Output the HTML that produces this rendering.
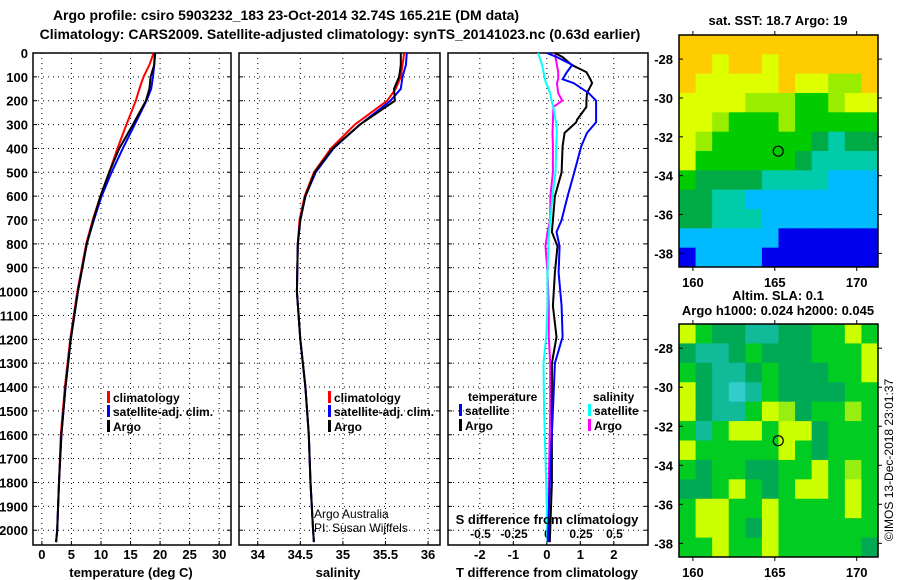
<!DOCTYPE html>
<html><head><meta charset="utf-8"><style>
body{margin:0;background:#fff;}
svg{display:block;font-family:"Liberation Sans",sans-serif;}
.b{font-weight:bold;font-size:14px;}
.t{font-weight:bold;font-size:13px;}
.l{font-weight:bold;font-size:12px;}
</style></head><body>
<svg id="c" width="900" height="580" xmlns="http://www.w3.org/2000/svg">
<rect width="900" height="580" fill="#fff"/>
<text x="286" y="20" text-anchor="middle" class="b">Argo profile: csiro 5903232_183 23-Oct-2014 32.74S 165.21E (DM data)</text>
<text x="340" y="39" text-anchor="middle" class="b">Climatology: CARS2009. Satellite-adjusted climatology: synTS_20141023.nc (0.63d earlier)</text>
<g id="g"></g>
</svg>
<script>
// ---- data ----
const depth     = [0,50,100,150,200,300,400,500,600,700,800,1000,1200,1400,1600,1800,2000,2050];
const tempClim  = [18.9,18.2,17.2,16.5,15.9,14.3,12.8,11.4,9.9,8.6,7.5,6.0,4.8,3.9,3.2,2.9,2.6,2.4];
const tempSat   = [19.2,19.0,18.8,18.5,17.7,15.7,13.7,11.8,10.1,8.8,7.6,6.1,4.9,4.0,3.3,2.9,2.6,2.4];
const tempArgo  = [19.1,19.0,18.4,18.2,17.6,15.4,13.1,11.4,9.9,8.7,7.6,6.1,4.9,4.0,3.3,2.9,2.6,2.4];
const salClim   = [35.72,35.70,35.68,35.62,35.52,35.14,34.86,34.66,34.55,34.49,34.47,34.46,34.50,34.56,34.60,34.62,34.65,34.66];
const salSat    = [35.75,35.74,35.70,35.68,35.56,35.20,34.89,34.68,34.56,34.50,34.47,34.46,34.50,34.56,34.60,34.62,34.65,34.66];
const salArgo   = [35.68,35.68,35.66,35.60,35.61,35.20,34.88,34.67,34.56,34.50,34.47,34.46,34.50,34.56,34.60,34.62,34.65,34.66];
const dDepth    = [0,17,50,80,110,126,168,200,226,280,290,335,390,500,600,700,750,810,920,1060,1190,1300,1500,1800,2050];
const tDiffSat  = [0,0.3,0.76,0.6,0.47,0.8,1.25,1.47,1.47,1.47,1.47,1.2,1.03,0.82,0.62,0.44,0.29,0.38,0.35,0.44,0.47,0.24,0.18,0.09,0.03];
const tDiffArgo = [0.24,0.47,0.74,1.18,1.3,1.35,1.2,1.18,1.18,0.9,0.88,0.53,0.47,0.44,0.24,0.18,0.15,0.32,0.24,0.18,0.29,0.15,0.15,0.15,0.09];
const sDiffSat  = [-0.07,-0.06,-0.04,-0.03,-0.02,-0.01,0.02,0.03,0.044,0.06,0.065,0.07,0.065,0.06,0.037,0.02,0.012,0.007,0,0,-0.01,-0.03,-0.025,-0.01,0];
const sDiffArgo = [0.06,0.06,0.07,0.08,0.08,0.07,0.08,0.11,0.044,0.04,0.04,0.037,0.04,0.04,0.022,0.02,0.0,-0.015,0.0,0.01,0.01,0.02,0.02,0.01,0.01];
const depthTicks = [0,100,200,300,400,500,600,700,800,900,1000,1100,1200,1300,1400,1500,1600,1700,1800,1900,2000];
const tempTicks = [0,5,10,15,20,25,30];
const salTicks = [34,34.5,35,35.5,36];
const salTickLabels = ['34','34.5','35','35.5','36'];
const tdTicks = [-2,-1,0,1,2];
const sdTicks = [-0.5,-0.25,0,0.25,0.5];
const sdTickLabels = ['-0.5','-0.25','0','0.25','0.5'];
const latTicks = [-28,-30,-32,-34,-36,-38];
const lonTicks = [160,165,170];
const sstGrid = ["OOOOOOOOOOOO","OOYOOYOOOOOO","OYYYYYOYYLLO","YYYYLLLGGLYY","YYLGGGLGGGGG","YLGGGGGGDTDD","YGGGGGGDTTTT","GDDDDTTTTCCC","DDTTCCCCCCCC","DDTTTCCCCCCC","CCCCCCBBBBBB","BCCCCBBBBBBB"];
const slaGrid = ["YGDDTTDDGGYG","DTTDGDDDGGGY","GDTTDGDDDGGY","YDTCTGDDDDGG","YDTTGYLDGGLG","GTGYYGYYDGGG","YGGGGGYGDGGG","GDGGDDGGYGLG","DDGYGDGYYGYG","GYYGGYGGGGYG","GYYGDYGGGGGG","GGYGGYGGGGGD"];
const sstColors = {O:'#ffcc00',Y:'#ddff00',L:'#99ee00',G:'#00cc00',D:'#00aa44',T:'#00ccaa',C:'#00bbff',B:'#0000ee'};
const slaColors = {Y:'#ccff00',L:'#99ee11',G:'#00cc22',D:'#00aa55',T:'#11bb99',C:'#33cccc'};
const floatLon = 165.21, floatLat = -32.74;

const NS='http://www.w3.org/2000/svg';
const g=document.getElementById('g');
function el(tag,attrs,parent){const e=document.createElementNS(NS,tag);for(const k in attrs)e.setAttribute(k,attrs[k]);(parent||g).appendChild(e);return e;}
function txt(x,y,s,cls,anchor,parent){const e=el('text',{x:x,y:y,'class':cls||'t','text-anchor':anchor||'middle'},parent);e.textContent=s;return e;}

const yTop=53, yBot=545;
const yD = d => yTop + d*0.2386;
const panels=[
 {x0:33,x1:231,dom:[-1.5,32],name:'temperature-panel'},
 {x0:239,x1:440,dom:[33.78,36.14],name:'salinity-panel'},
 {x0:448,x1:648,dom:[-2.95,3.02],name:'difference-panel'}];
function sx(p,v){return p.x0+(v-p.dom[0])/(p.dom[1]-p.dom[0])*(p.x1-p.x0);}

panels.forEach((p,i)=>{
  const pg=el('g',{});
  
  
  const xt = i==0?tempTicks:i==1?salTicks:tdTicks;
  depthTicks.forEach(d=>{ if(d>0) el('line',{x1:p.x0,x2:p.x1,y1:yD(d),y2:yD(d),stroke:'#000','stroke-width':1,'stroke-dasharray':'1,4'},pg);
    el('line',{x1:p.x0,x2:p.x0+4,y1:yD(d),y2:yD(d),stroke:'#000'},pg);
    el('line',{x1:p.x1-4,x2:p.x1,y1:yD(d),y2:yD(d),stroke:'#000'},pg);});
  xt.forEach(v=>{const x=sx(p,v); el('line',{x1:x,x2:x,y1:yTop,y2:yBot,stroke:'#000','stroke-dasharray':'1,4'},pg);
    el('line',{x1:x,x2:x,y1:yBot-4,y2:yBot,stroke:'#000'},pg);});
  el('rect',{x:p.x0,y:yTop,width:p.x1-p.x0,height:yBot-yTop,fill:'none',stroke:'#000','stroke-width':1.5},pg);
});
depthTicks.forEach(d=>{const e=txt(28,yD(d)+5,String(d),'t','end');
  
  });
tempTicks.forEach(v=>{const e=txt(sx(panels[0],v),559,String(v));
  
  });
salTicks.forEach((v,i)=>{const e=txt(sx(panels[1],v),559,salTickLabels[i]);
  
  });
tdTicks.forEach(v=>{const e=txt(sx(panels[2],v),559,String(v));
  
  });
const sdScale = v => 547.5 + v*134;
sdTicks.forEach((v,i)=>{const e=txt(sdScale(v),538,sdTickLabels[i],'l');
  
  });

function line(xs,ds,fx,color,name){
  const pts=xs.map((v,i)=>fx(v).toFixed(1)+','+yD(ds[i]).toFixed(1)).join(' ');
  const e=el('polyline',{points:pts,fill:'none',stroke:color,'stroke-width':2});
  
  
}
const P0=v=>sx(panels[0],v), P1=v=>sx(panels[1],v), P2=v=>sx(panels[2],v);
line(tempClim,depth,P0,'#ff0000','temp-climatology-line');
line(tempSat,depth,P0,'#0000ff','temp-satellite-line');
line(tempArgo,depth,P0,'#000000','temp-argo-line');
line(salClim,depth,P1,'#ff0000','sal-climatology-line');
line(salSat,depth,P1,'#0000ff','sal-satellite-line');
line(salArgo,depth,P1,'#000000','sal-argo-line');
line(sDiffArgo,dDepth,sdScale,'#ff00ff','s-diff-argo-line');
line(sDiffSat,dDepth,sdScale,'#00ffff','s-diff-satellite-line');
line(tDiffArgo,dDepth,P2,'#000000','t-diff-argo-line');
line(tDiffSat,dDepth,P2,'#0000ff','t-diff-satellite-line');

function leg(x,y,color,label,name){
  const lg=el('g',{});
  
  
  el('rect',{x:x,y:y-11,width:3,height:12,fill:color},lg);
  txt(x+6,y,label,'l','start',lg);
}
leg(107,402,'#ff0000','climatology','legend-climatology');
leg(107,416,'#0000ff','satellite-adj. clim.','legend-satellite-adj');
leg(107,431,'#000000','Argo','legend-argo');
leg(328,402,'#ff0000','climatology','legend-climatology-2');
leg(328,416,'#0000ff','satellite-adj. clim.','legend-satellite-adj-2');
leg(328,431,'#000000','Argo','legend-argo-2');
txt(468,401,'temperature','l','start');
leg(459,415,'#0000ff','satellite','legend-t-satellite');
leg(459,430,'#000000','Argo','legend-t-argo');
txt(593,401,'salinity','l','start');
leg(588,415,'#00ffff','satellite','legend-s-satellite');
leg(588,430,'#ff00ff','Argo','legend-s-argo');
txt(547,524,'S difference from climatology');
txt(314,518,'Argo Australia','n','start').setAttribute('style','font-size:12px');
txt(314,532,'PI: Susan Wijffels','n','start').setAttribute('style','font-size:12px');
txt(131,577,'temperature (deg C)');
txt(338,577,'salinity');
txt(547,577,'T difference from climatology');

function map(y0,y1,grid,colors,name){
  const x0=679,x1=878;
  const lonD=[159.15,171.3], latD=[-26.76,-38.7];
  const mx=v=>x0+(v-lonD[0])/(lonD[1]-lonD[0])*(x1-x0);
  const my=v=>y0+(v-latD[0])/(latD[1]-latD[0])*(y1-y0);
  const mg=el('g',{});
  
  
  const rows=grid.length, cols=grid[0].length;
  const cw=(x1-x0)/cols, ch=(y1-y0)/rows;
  grid.forEach((r,ri)=>{for(let ci=0;ci<cols;ci++){
    el('rect',{x:x0+ci*cw,y:y0+ri*ch,width:cw+0.5,height:ch+0.5,fill:colors[r[ci]]},mg);}});
  el('rect',{x:x0,y:y0,width:x1-x0,height:y1-y0,fill:'none',stroke:'#000','stroke-width':1.5},mg);
  latTicks.forEach(v=>{const y=my(v);el('line',{x1:x0,x2:x0+4,y1:y,y2:y,stroke:'#000'},mg);
    el('line',{x1:x1,x2:x1+4,y1:y,y2:y,stroke:'#000'},mg);txt(673,y+5,String(v),'t','end',mg);});
  lonTicks.forEach(v=>{const x=mx(v);el('line',{x1:x,x2:x,y1:y1,y2:y1+4,stroke:'#000'},mg);
    el('line',{x1:x,x2:x,y1:y0-4,y2:y0,stroke:'#000'},mg);txt(x,y1+20,String(v),'t','middle',mg);});
  const c=el('circle',{cx:mx(floatLon),cy:my(floatLat),r:5,fill:'none',stroke:'#000','stroke-width':1.2},mg);
  
  
}
map(35,267,sstGrid,sstColors,'sst-map');
map(324,557,slaGrid,slaColors,'sla-map');
txt(778,25,'sat. SST: 18.7 Argo: 19');
txt(778,300,'Altim. SLA: 0.1');
txt(778,315,'Argo h1000: 0.024 h2000: 0.045');
const cr=txt(0,0,'©IMOS 13-Dec-2018 23:01:37','n','middle');
cr.setAttribute('transform','translate(893,460) rotate(-90)');
cr.setAttribute('style','font-size:12px');
</script>
</body></html>
